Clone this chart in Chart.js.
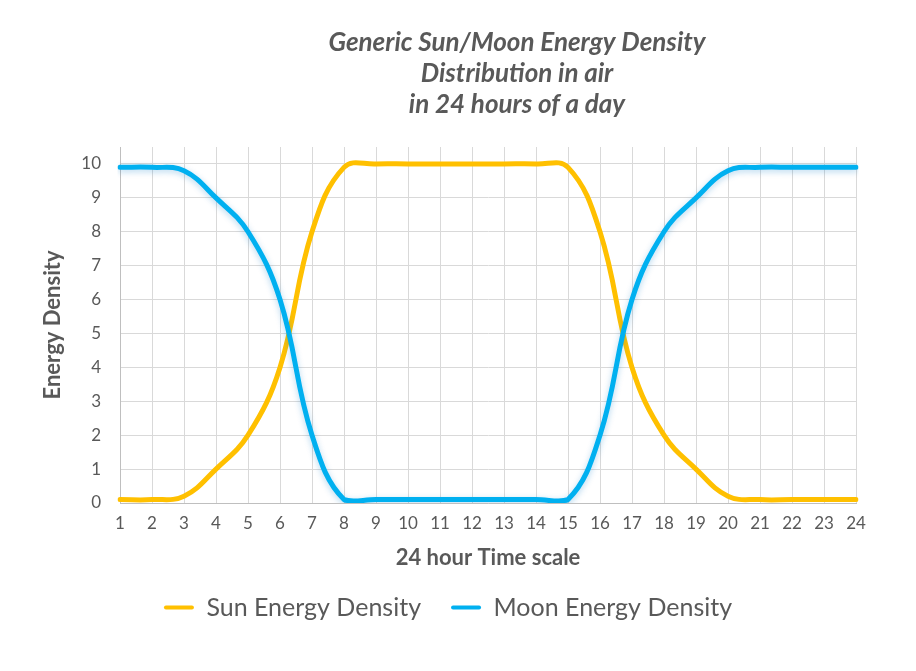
<!DOCTYPE html>
<html>
<head>
<meta charset="utf-8">
<style>
  html, body { margin: 0; padding: 0; background: #ffffff; }
  #wrap { width: 916px; height: 671px; position: relative; }
</style>
<script src="https://cdn.jsdelivr.net/npm/chart.js@4.4.1/dist/chart.umd.min.js"></script>
</head>
<body>
<div id="wrap"><canvas id="chart" width="916" height="671"></canvas></div>
<script>
// ---- data ----
const hours = ['1','2','3','4','5','6','7','8','9','10','11','12','13','14','15','16','17','18','19','20','21','22','23','24'];
const sunEnergy  = [0.1, 0.1, 0.2, 1, 2, 4, 8, 9.9, 10, 10, 10, 10, 10, 10, 9.9, 8, 4, 2, 1, 0.2, 0.1, 0.1, 0.1, 0.1];
const moonEnergy = [9.9, 9.9, 9.8, 9, 8, 6, 2, 0.1, 0.1, 0.1, 0.1, 0.1, 0.1, 0.1, 0.1, 2, 6, 8, 9, 9.8, 9.9, 9.9, 9.9, 9.9];
const yTickValues = [0, 1, 2, 3, 4, 5, 6, 7, 8, 9, 10];
const seriesNames = ['Sun Energy Density', 'Moon Energy Density'];
const titleLines = ['Generic Sun/Moon Energy Density', 'Distribution in air', 'in 24 hours of a day'];
const xAxisTitle = '24 hour Time scale';
const yAxisTitle = 'Energy Density';

const TEXT = '#595959';
const SUN = '#FFC000';
const MOON = '#00B0F0';
const FONT = 'Lato';

const titlePlugin = {
  id: 'customTitle',
  afterDraw(chart) {
    const ctx = chart.ctx;
    ctx.save();
    ctx.font = 'italic bold 26px ' + FONT;
    ctx.fillStyle = TEXT;
    ctx.textAlign = 'center';
    ctx.textBaseline = 'alphabetic';
    titleLines.forEach((t, i) => ctx.fillText(t, 517, 51 + i * 31));
    ctx.restore();
  }
};

const glowPlugin = {
  id: 'glow',
  beforeDatasetDraw(chart, args) {
    if (args.index === 1) {
      const ctx = chart.ctx;
      ctx.save();
      ctx.shadowColor = 'rgba(0, 120, 200, 0.30)';
      ctx.shadowBlur = 6;
      ctx.shadowOffsetY = 2;
    }
  },
  afterDatasetDraw(chart, args) {
    if (args.index === 1) chart.ctx.restore();
  }
};

new Chart(document.getElementById('chart'), {
  type: 'line',
  data: {
    labels: hours,
    datasets: [
      { label: seriesNames[0], data: sunEnergy, borderColor: SUN, backgroundColor: SUN,
        borderWidth: 5, pointRadius: 0, tension: 0.4, fill: false, order: 1,
        borderCapStyle: 'round', borderJoinStyle: 'round' },
      { label: seriesNames[1], data: moonEnergy, borderColor: MOON, backgroundColor: MOON,
        borderWidth: 5, pointRadius: 0, tension: 0.4, fill: false, order: 0,
        borderCapStyle: 'round', borderJoinStyle: 'round' }
    ]
  },
  options: {
    responsive: false,
    devicePixelRatio: 1,
    animation: false,
    layout: { padding: { left: 40, right: 60, top: 147, bottom: 41 } },
    plugins: {
      title: { display: false },
      tooltip: { enabled: false },
      legend: {
        position: 'bottom',
        labels: {
          color: TEXT,
          font: { family: FONT, size: 25 },
          boxWidth: 30,
          boxHeight: 4,
          padding: 30,
          sort: (a, b) => a.datasetIndex - b.datasetIndex,
          generateLabels: (chart) => chart.data.datasets.map((ds, i) => ({
            text: ds.label, fillStyle: ds.borderColor, strokeStyle: ds.borderColor,
            lineWidth: 0, borderRadius: 2, datasetIndex: i, hidden: false, fontColor: TEXT
          }))
        }
      }
    },
    scales: {
      x: {
        type: 'category',
        offset: false,
        afterFit: (s) => { s.height = 62; },
        grid: { color: '#d9d9d9', lineWidth: 1, drawTicks: false },
        border: { color: '#bfbfbf', width: 1 },
        ticks: { color: TEXT, font: { family: FONT, size: 17 }, padding: 10, autoSkip: false, maxRotation: 0 },
        title: { display: true, text: xAxisTitle, color: TEXT, font: { family: FONT, size: 22, weight: 'bold' },
                 padding: { top: 0, bottom: -6 } }
      },
      y: {
        min: 0,
        max: 10.5,
        afterFit: (s) => { s.width = 80; },
        afterBuildTicks: (s) => { s.ticks = yTickValues.map(v => ({ value: v })); },
        grid: { color: '#d9d9d9', lineWidth: 1, drawTicks: false },
        border: { color: '#bfbfbf', width: 1 },
        ticks: { color: TEXT, font: { family: FONT, size: 17 }, padding: 19 },
        title: { display: true, text: yAxisTitle, color: TEXT, font: { family: FONT, size: 22, weight: 'bold' },
                 padding: { top: 0, bottom: 0 } }
      }
    }
  },
  plugins: [titlePlugin, glowPlugin]
});
</script>
</body>
</html>
